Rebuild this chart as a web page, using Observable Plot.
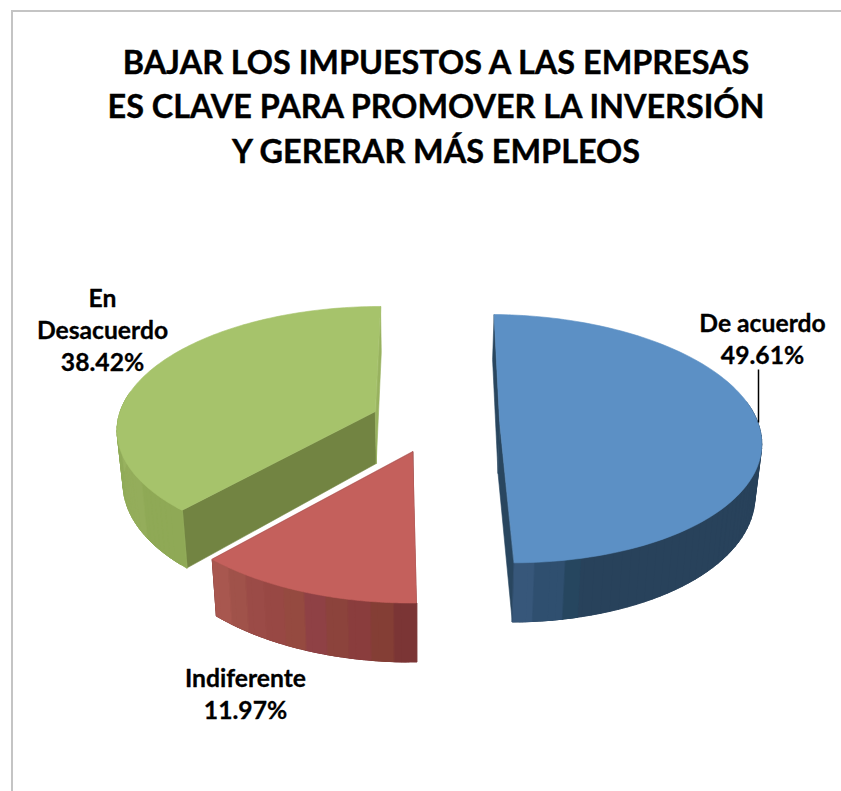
<!DOCTYPE html>
<html lang="es">
<head>
<meta charset="utf-8">
<script src="https://cdn.jsdelivr.net/npm/d3@7"></script>
<script src="https://cdn.jsdelivr.net/npm/@observablehq/plot@0.6"></script>
<style>
html,body{margin:0;padding:0;background:#fff;}
#page{position:relative;width:841px;height:791px;overflow:hidden;}
#frame{position:absolute;left:11px;top:10px;right:-5px;bottom:-5px;border:2px solid #c4c4c4;pointer-events:none;}
#title{position:relative;height:200px;box-sizing:border-box;padding-top:39.5px;padding-left:31px;text-align:center;
font:700 32.4px/44.5px Lato,sans-serif;color:#000;-webkit-text-stroke:0.4px #000;}
#chart svg{display:block;}
</style>
</head>
<body>
<div id="page">
<div id="frame"></div>
<div id="title">BAJAR LOS IMPUESTOS A LAS EMPRESAS<br>ES CLAVE PARA PROMOVER LA INVERSIÓN<br>Y GERERAR MÁS EMPLEOS</div>
<div id="chart"></div>
</div>
<script>
// Data
const categories = ["De acuerdo", "Indiferente", "En Desacuerdo"];
const shares = [49.61, 11.97, 38.42];
const labelTexts = ["De acuerdo\n49.61%", "Indiferente\n11.97%", "En\nDesacuerdo\n38.42%"];

// Styles per slice
const topColors = ["#5c90c5", "#c4605c", "#a6c36b"];
const wallBase = ["#28425b", "#7c3636", "#9ab561"];
const startWall = ["#29465f", "#7c3636", "#728442"];
const endWall = ["#29465f", "#7c3636", "#98b25f"];
// Side-wall shading bands, each [degrees along the rim, colour]
const blueBands = [[4, "#37577a"], [6, "#2f4f6f"], [3, "#26465f"]]; // from the front edge going right
const redBands = ["#7b3535", "#843e35", "#8a3d3d", "#8c433c", "#8f4145", "#954a40", "#984844", "#9b4b47", "#a0524a", "#a8574f"]; // right to left
const greenBands = ["#8fa956", "#94ad5b", "#91ab59", "#98b25f", "#9ab561"]; // front corner going left

// Label layout
const labelX = [762, 245, 102];
const labelY = [337, 692.5, 328.5];

// Perspective camera for the 3-D pie
const cam = {vx: 419, vy: -483, f: 1915, h: 6711, D: 7.417, shrink: 0.98, cx: 0.0605, explode: 0.25};
const wallHeight = [380, 365, 390];
const sliceTurn = [1, 0.5, 0].map(d => d * Math.PI / 180);

const arcs = d3.pie().sort(null).value(d => d)(shares);
const polys = [];
let pid = 0;
function addPoly(points, color) {
  const id = pid++;
  for (const p of points) polys.push({x: p.x, y: p.y, id, color});
}
const rad = d => d * Math.PI / 180;
const drawOrder = [2, 0, 1]; // back-to-front

for (const i of drawOrder) {
  const a0 = arcs[i].startAngle + sliceTurn[i], a1 = arcs[i].endAngle + sliceTurn[i];
  const mid = (arcs[i].startAngle + arcs[i].endAngle) / 2;
  const cX = cam.cx + cam.explode * Math.sin(mid), cY = cam.explode * Math.cos(mid);
  const project = (X, Y, lower) => {
    const Z = cam.D + Y;
    let sx = cam.f * X / Z;
    if (lower) sx *= cam.shrink;
    return {x: cam.vx + sx, y: cam.vy + (cam.h + (lower ? wallHeight[i] : 0)) / Z};
  };
  const rim = (t, lower) => project(cX + Math.sin(t), cY + Math.cos(t), lower);
  const hub = lower => project(cX, cY, lower);
  // outer wall piece as overlapping quads (no seams), skipping the hidden far side
  const wall = (t0, t1, color) => {
    const n = Math.max(1, Math.ceil(Math.abs(t1 - t0) / rad(2)));
    for (let s = n - 1; s >= 0; s--) {
      const u0 = t0 + (t1 - t0) * s / n, u1 = t0 + (t1 - t0) * Math.min(n, s + 2) / n;
      if (Math.cos((u0 + u1) / 2) > 0.15) continue;
      addPoly([rim(u0, false), rim(u1, false), rim(u1, true), rim(u0, true)], color);
    }
  };

  // radial inner walls
  addPoly([hub(false), rim(a0, false), rim(a0, true), hub(true)], startWall[i]);
  addPoly([hub(false), rim(a1, false), rim(a1, true), hub(true)], endWall[i]);

  // outer wall: a base colour, then shading bands on top
  wall(a0, a1, wallBase[i]);
  if (i === 0) {
    let t = a1;
    for (const [deg, col] of blueBands) { wall(t, t - rad(deg), col); t -= rad(deg); }
  } else if (i === 1) {
    redBands.forEach((col, b) => wall(a0 + (a1 - a0) * b / redBands.length, a0 + (a1 - a0) * (b + 1) / redBands.length, col));
  } else {
    greenBands.forEach((col, b) => wall(a0 + rad(15) * b, a0 + rad(15) * (b + 1), col));
  }

  // top face
  const face = [hub(false)];
  for (let s = 0; s <= 120; s++) face.push(rim(a0 + (a1 - a0) * s / 120, false));
  addPoly(face, topColors[i]);
}

const labels = labelTexts.map((text, i) => ({text, x: labelX[i], y: labelY[i], name: categories[i]}));
const leader = [{x1: 758, y1: 369, x2: 758, y2: 422}];

const plot = Plot.plot({
  width: 841, height: 591,
  marginTop: 0, marginRight: 0, marginBottom: 0, marginLeft: 0,
  x: {domain: [0, 841], range: [0, 841], axis: null},
  y: {domain: [200, 791], range: [0, 591], axis: null},
  style: {background: "transparent"},
  marks: [
    Plot.line(polys, {x: "x", y: "y", z: "id", fill: "color", stroke: "color", strokeWidth: 0.6, curve: "linear-closed"}),
    Plot.link(leader, {x1: "x1", y1: "y1", x2: "x2", y2: "y2", stroke: "#000", strokeWidth: 1.5}),
    Plot.text(labels, {x: "x", y: "y", text: "text", fontFamily: "Lato, sans-serif", fontWeight: 700, fontSize: 24.7, lineHeight: 1.3, fill: "#000", stroke: "#000", strokeWidth: 0.3, textAnchor: "middle"})
  ]
});
document.getElementById("chart").append(plot);
</script>
</body>
</html>
